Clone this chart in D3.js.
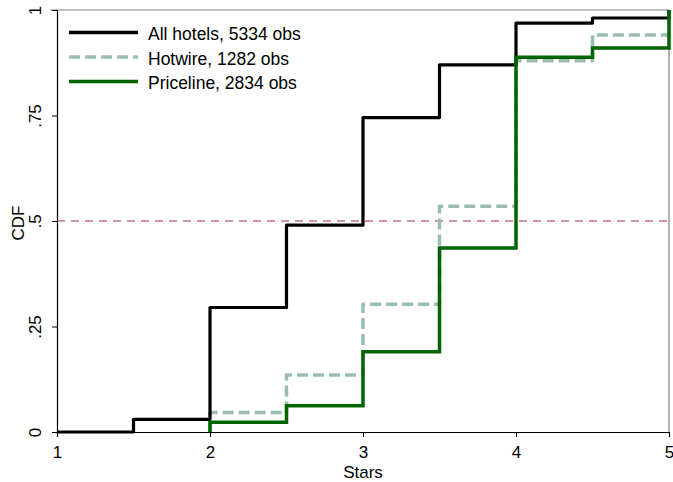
<!DOCTYPE html>
<html><head><meta charset="utf-8">
<script src="https://cdn.jsdelivr.net/npm/d3@7"></script>
<style>body{margin:0;background:#fff}svg{display:block}</style>
</head><body>
<script>
// Data (step CDFs: value at each star level, held until next level)
const stars = [1, 1.5, 2, 2.5, 3, 3.5, 4, 4.5, 5];
const allHotels = [0, 0.030, 0.295, 0.490, 0.745, 0.870, 0.969, 0.981, 1];
const hotwireStars = [2, 2.5, 3, 3.5, 4, 4.5, 5];
const hotwire = [0.046, 0.135, 0.303, 0.535, 0.880, 0.941, 1];
const pricelineStars = [2, 2.5, 3, 3.5, 4, 4.5, 5];
const priceline = [0.023, 0.062, 0.190, 0.436, 0.888, 0.910, 1];
const seriesNames = ["All hotels, 5334 obs", "Hotwire, 1282 obs", "Priceline, 2834 obs"];
const xTicks = [1, 2, 3, 4, 5];
const yTicks = [0, 0.25, 0.5, 0.75, 1];
const yTickLabels = ["0", ".25", ".5", ".75", "1"];

const W = 673, H = 482;
const svg = d3.select("body").append("svg").attr("width", W).attr("height", H);
const font = "Arial, 'Liberation Sans', sans-serif";
const fs = 17;

const x = d3.scaleLinear().domain([1, 5]).range([57, 669]);
const y = d3.scaleLinear().domain([0, 1]).range([432, 10]);

// frame (gray top/right)
svg.append("line").attr("x1", 50).attr("x2", x(5)).attr("y1", y(1)).attr("y2", y(1))
  .attr("stroke", "#808080").attr("stroke-width", 1.2);
svg.append("line").attr("x1", x(5)).attr("x2", x(5)).attr("y1", y(1)).attr("y2", y(0))
  .attr("stroke", "#808080").attr("stroke-width", 1.2);

// reference line at .5
svg.append("line").attr("x1", x(1)).attr("x2", x(5)).attr("y1", y(0.5)).attr("y2", y(0.5))
  .attr("stroke", "#a82a48").attr("stroke-width", 1).attr("stroke-dasharray", "8,6");

// axes
const yAxis = d3.axisLeft(y).tickValues(yTicks).tickSize(5).tickPadding(8)
  .tickFormat((d, i) => yTickLabels[i]);
const gy = svg.append("g").attr("transform", `translate(${x(1)},0)`).call(yAxis);
gy.select(".domain").attr("stroke", "#000").attr("stroke-width", 1.2);
gy.selectAll(".tick line").attr("stroke", "#000");
gy.selectAll(".tick text").attr("font-family", font).attr("font-size", fs).attr("fill", "#000")
  .attr("text-anchor", "middle").attr("x", null).attr("y", null).attr("dy", "0")
  .attr("transform", "translate(-16,0) rotate(-90)");

const xAxis = d3.axisBottom(x).tickValues(xTicks).tickSize(5).tickPadding(9).tickFormat(d3.format("d"));
const gx = svg.append("g").attr("transform", `translate(0,${y(0)})`).call(xAxis);
gx.select(".domain").attr("stroke", "#000").attr("stroke-width", 1.2);
gx.selectAll(".tick line").attr("stroke", "#000");
gx.selectAll(".tick text").attr("font-family", font).attr("font-size", fs).attr("fill", "#000");

// axis titles
svg.append("text").attr("x", x(3)).attr("y", 477.5).attr("text-anchor", "middle")
  .attr("font-family", font).attr("font-size", fs).text("Stars");
svg.append("text").attr("transform", `translate(24,223) rotate(-90)`).attr("text-anchor", "middle")
  .attr("font-family", font).attr("font-size", fs).text("CDF");

// step lines
const line = d3.line().x(d => x(d[0])).y(d => y(d[1])).curve(d3.curveStepAfter);
function pts(xs, ys, startZero) {
  const p = xs.map((v, i) => [v, ys[i]]);
  if (startZero) p.unshift([xs[0], 0]);
  return p;
}
const plot = svg.append("g");
plot.append("path").datum(pts(hotwireStars, hotwire, true)).attr("d", line)
  .attr("fill", "none").attr("stroke", "#9bbcb2").attr("stroke-width", 3.5)
  .attr("stroke-dasharray", "11,5").attr("stroke-linejoin", "round");
plot.append("path").datum(pts(stars, allHotels, false)).attr("d", line)
  .attr("fill", "none").attr("stroke", "#000").attr("stroke-width", 3.2).attr("stroke-linejoin", "round");
plot.append("path").datum(pts(pricelineStars, priceline, true)).attr("d", line)
  .attr("fill", "none").attr("stroke", "#006400").attr("stroke-width", 3.5).attr("stroke-linejoin", "miter");

// legend
const leg = [
  {name: seriesNames[0], color: "#000", dash: null, w: 3.5},
  {name: seriesNames[1], color: "#9bbcb2", dash: "11,5", w: 3.5},
  {name: seriesNames[2], color: "#006400", dash: null, w: 3.5}
];
leg.forEach((l, i) => {
  const ly = 32.5 + i * 24.5;
  svg.append("line").attr("x1", 69).attr("x2", 138).attr("y1", ly).attr("y2", ly)
    .attr("stroke", l.color).attr("stroke-width", l.w).attr("stroke-dasharray", l.dash);
  svg.append("text").attr("x", 148).attr("y", ly + 7.5).attr("font-family", font)
    .attr("font-size", 17.5).attr("fill", "#000").text(l.name);
});
</script>
</body></html>
